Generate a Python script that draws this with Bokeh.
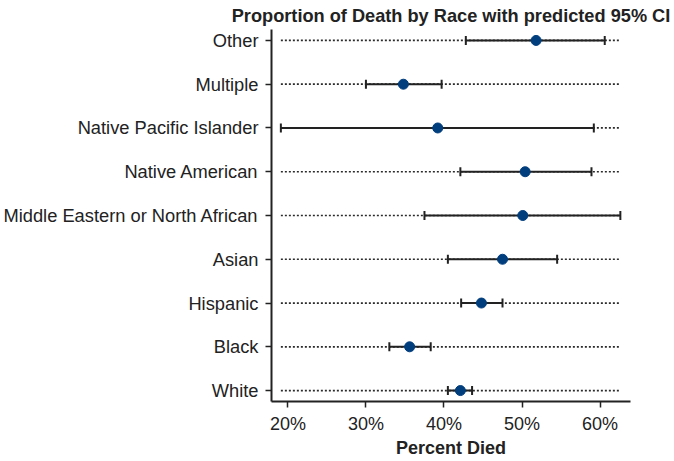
from bokeh.plotting import figure
from bokeh.models import FactorRange, FixedTicker, PrintfTickFormatter, ColumnDataSource
from bokeh.embed import file_html
from bokeh.resources import INLINE
import numpy as np

# Data (top to bottom as displayed)
categories = ["Other", "Multiple", "Native Pacific Islander", "Native American",
              "Middle Eastern or North African", "Asian", "Hispanic", "Black", "White"]
point = [51.8, 34.8, 39.2, 50.4, 50.1, 47.5, 44.8, 35.6, 42.1]
lower = [42.8, 30.0, 19.1, 42.1, 37.5, 40.5, 42.2, 33.0, 40.5]
upper = [60.6, 39.7, 59.2, 58.9, 62.6, 54.5, 47.5, 38.3, 43.6]
x_ticks = [20, 30, 40, 50, 60]
title_text = "Proportion of Death by Race with predicted 95% CI"
x_label = "Percent Died"

FONT = "Liberation Sans"
INK = "#222222"

factors = list(reversed(categories))
yr = FactorRange(factors=factors, range_padding=-0.25, range_padding_units="absolute")

p = figure(width=674, height=461, y_range=yr, x_range=(17.9, 63.9),
           output_backend="svg", toolbar_location=None,
           min_border_left=271, min_border_right=44, min_border_top=29, min_border_bottom=60)
p.outline_line_color = None
p.grid.grid_line_color = None
p.background_fill_color = "white"
p.border_fill_color = "white"

p.title.text = title_text
p.title.align = "center"
p.title.vertical_align = "top"
p.title.text_font = FONT
p.title.text_font_size = "18.2px"
p.title.text_font_style = "bold"
p.title.text_color = INK
p.title.standoff = 4
p.title.offset = -3

src = ColumnDataSource(dict(cat=categories, point=point, lower=lower, upper=upper,
                            dmin=[min(lower)] * len(categories),
                            dmax=[max(upper)] * len(categories)))

# dotted reference lines spanning full CI extent
p.segment(x0="dmin", x1="dmax", y0="cat", y1="cat", source=src,
          line_color="#2a2a2a", line_width=1.7, line_dash="2 2")
# CI lines
p.segment(x0="lower", x1="upper", y0="cat", y1="cat", source=src,
          line_color=INK, line_width=2)
# caps
p.scatter(x="lower", y="cat", source=src, marker="dash", angle=np.pi / 2,
          size=9, line_color=INK, line_width=2)
p.scatter(x="upper", y="cat", source=src, marker="dash", angle=np.pi / 2,
          size=9, line_color=INK, line_width=2)
# points
p.scatter(x="point", y="cat", source=src, marker="circle", size=10,
          fill_color="#003E7E", line_color="#003E7E")

# axes
for ax in (p.xaxis[0], p.yaxis[0]):
    ax.axis_line_width = 2
    ax.axis_line_color = INK
    ax.major_tick_line_color = INK
    ax.major_tick_line_width = 1.5
    ax.major_tick_out = 6
    ax.major_tick_in = 0
    ax.minor_tick_line_color = None
    ax.major_label_text_font = FONT
    ax.major_label_text_color = INK

p.xaxis.ticker = FixedTicker(ticks=x_ticks)
p.xaxis.formatter = PrintfTickFormatter(format="%d%%")
p.xaxis.major_label_text_font_size = "18px"
p.xaxis.major_label_standoff = 6
p.xaxis.axis_label = x_label
p.xaxis.axis_label_text_font = FONT
p.xaxis.axis_label_text_font_size = "18px"
p.xaxis.axis_label_text_font_style = "bold"
p.xaxis.axis_label_text_color = INK
p.xaxis.axis_label_standoff = 1

p.yaxis.major_label_text_font_size = "18.3px"
p.yaxis.major_label_standoff = 7

open("out.html", "w").write(file_html(p, INLINE))
